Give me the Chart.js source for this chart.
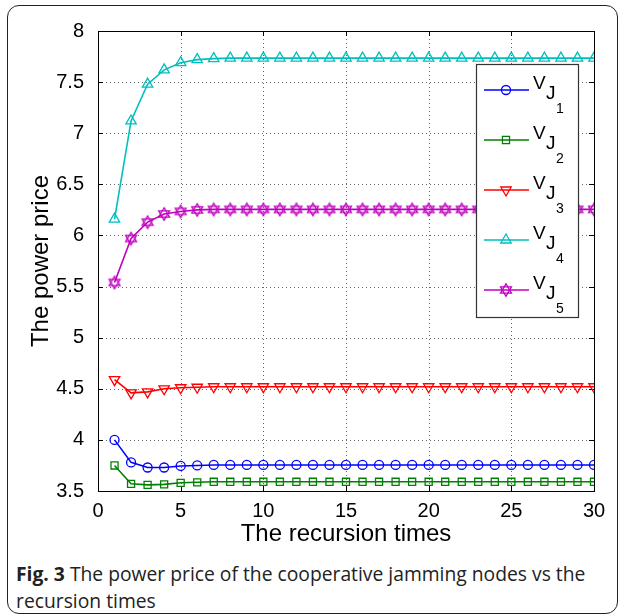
<!DOCTYPE html>
<html>
<head>
<meta charset="utf-8">
<script src="https://cdn.jsdelivr.net/npm/chart.js@4.4.0/dist/chart.umd.min.js"></script>
<style>
  body { margin: 0; background: #fff; width: 627px; height: 615px; overflow: hidden; }
  #frame { position: absolute; left: 7px; top: 5px; width: 611px; height: 609px; border: 1.5px solid #222; border-radius: 12px; box-sizing: border-box; }
  #wrap { position: absolute; left: 0; top: 0; width: 627px; height: 549px; }
  #caption { position: absolute; left: 16px; top: 560px; width: 600px; font-family: "Open Sans", sans-serif; font-size: 19.3px; line-height: 27px; color: #222; }
  #caption b { font-weight: 700; }
</style>
</head>
<body>
<div id="frame"></div>
<div id="wrap"><canvas id="myChart"></canvas></div>
<div id="caption"><b>Fig. 3</b> The power price of the cooperative jamming nodes vs the recursion times</div>
<script>
const iteraciones = [1,2,3,4,5,6,7,8,9,10,11,12,13,14,15,16,17,18,19,20,21,22,23,24,25,26,27,28,29,30];
const vJ1 = [4.00,3.78,3.73,3.73,3.745,3.75,3.755,3.755,3.755,3.755,3.755,3.755,3.755,3.755,3.755,3.755,3.755,3.755,3.755,3.755,3.755,3.755,3.755,3.755,3.755,3.755,3.755,3.755,3.755,3.755];
const vJ2 = [3.75,3.57,3.56,3.565,3.58,3.585,3.59,3.59,3.59,3.59,3.59,3.59,3.59,3.59,3.59,3.59,3.59,3.59,3.59,3.59,3.59,3.59,3.59,3.59,3.59,3.59,3.59,3.59,3.59,3.59];
const vJ3 = [4.59,4.46,4.47,4.50,4.51,4.515,4.52,4.52,4.52,4.52,4.52,4.52,4.52,4.52,4.52,4.52,4.52,4.52,4.52,4.52,4.52,4.52,4.52,4.52,4.52,4.52,4.52,4.52,4.52,4.52];
const vJ4 = [6.16,7.12,7.48,7.62,7.69,7.72,7.73,7.735,7.735,7.735,7.735,7.735,7.735,7.735,7.735,7.735,7.735,7.735,7.735,7.735,7.735,7.735,7.735,7.735,7.735,7.735,7.735,7.735,7.735,7.735];
const vJ5 = [5.54,5.97,6.13,6.21,6.235,6.25,6.255,6.255,6.255,6.255,6.255,6.255,6.255,6.255,6.255,6.255,6.255,6.255,6.255,6.255,6.255,6.255,6.255,6.255,6.255,6.255,6.255,6.255,6.255,6.255];
const nombres = ["1","2","3","4","5"];
const colores = ["#0000ff","#008000","#ff0000","#00bfbf","#bf00bf"];

// hexagram marker (MATLAB 'h')
const hexagrama = (color) => {
  const c = document.createElement("canvas");
  c.width = 16; c.height = 16;
  const ctx = c.getContext("2d");
  ctx.strokeStyle = color;
  ctx.lineWidth = 1.3;
  const r = 6.3;
  for (let k = 0; k < 2; k++) {
    ctx.beginPath();
    for (let i = 0; i < 3; i++) {
      const a = -Math.PI / 2 + k * Math.PI + i * 2 * Math.PI / 3;
      const px = 8 + r * Math.cos(a), py = 8 + r * Math.sin(a);
      if (i === 0) ctx.moveTo(px, py); else ctx.lineTo(px, py);
    }
    ctx.closePath();
    ctx.stroke();
  }
  return c;
};

const puntos = (valores) => valores.map((v, i) => ({ x: iteraciones[i], y: v }));

const estilos = [
  { pointStyle: "circle", pointRadius: 4.5, rotation: 0 },
  { pointStyle: "rect", pointRadius: 5, rotation: 0 },
  { pointStyle: "triangle", pointRadius: 6, rotation: 180 },
  { pointStyle: "triangle", pointRadius: 6, rotation: 0 },
  { pointStyle: hexagrama(colores[4]), pointRadius: 6, rotation: 0 },
];

const series = [vJ1, vJ2, vJ3, vJ4, vJ5];
const datasets = series.map((s, i) => ({
  label: "VJ" + nombres[i],
  data: puntos(s),
  borderColor: colores[i],
  backgroundColor: "rgba(0,0,0,0)",
  borderWidth: 1.6,
  pointBorderColor: colores[i],
  pointBackgroundColor: "rgba(0,0,0,0)",
  pointBorderWidth: 1.3,
  pointStyle: estilos[i].pointStyle,
  pointRadius: estilos[i].pointRadius,
  pointRotation: estilos[i].rotation,
  tension: 0,
}));

const marco = {
  id: "marco",
  beforeDatasetsDraw(chart) {
    const { ctx, chartArea: a } = chart;
    const xs = chart.scales.x, ys = chart.scales.y;
    ctx.save();
    // dotted grid
    ctx.strokeStyle = "#666";
    ctx.lineWidth = 1;
    ctx.setLineDash([1, 3]);
    ctx.beginPath();
    xs.ticks.forEach((t) => {
      const p = Math.round(xs.getPixelForValue(t.value)) + 0.5;
      if (p < a.left + 2 || p > a.right - 2) return;
      ctx.moveTo(p, a.top); ctx.lineTo(p, a.bottom);
    });
    ys.ticks.forEach((t) => {
      const p = Math.round(ys.getPixelForValue(t.value)) + 0.5;
      if (p < a.top + 2 || p > a.bottom - 2) return;
      ctx.moveTo(a.left, p); ctx.lineTo(a.right, p);
    });
    ctx.stroke();
    ctx.setLineDash([]);
    ctx.strokeStyle = "#000";
    ctx.strokeRect(a.left + 0.5, a.top + 0.5, a.right - a.left, a.bottom - a.top);
    // inward ticks
    ctx.beginPath();
    xs.ticks.forEach((t) => {
      const p = Math.round(xs.getPixelForValue(t.value)) + 0.5;
      ctx.moveTo(p, a.bottom); ctx.lineTo(p, a.bottom - 5);
      ctx.moveTo(p, a.top); ctx.lineTo(p, a.top + 5);
    });
    ys.ticks.forEach((t) => {
      const p = Math.round(ys.getPixelForValue(t.value)) + 0.5;
      ctx.moveTo(a.left, p); ctx.lineTo(a.left + 5, p);
      ctx.moveTo(a.right, p); ctx.lineTo(a.right - 5, p);
    });
    ctx.stroke();
    ctx.restore();
  },
  afterDraw(chart) {
    const { ctx } = chart;
    const bx = 476, by = 64, bw = 102, bh = 253;
    ctx.save();
    ctx.fillStyle = "#fff";
    ctx.fillRect(bx, by, bw, bh);
    ctx.strokeStyle = "#333";
    ctx.lineWidth = 1.2;
    ctx.strokeRect(bx + 0.5, by + 0.5, bw, bh);
    chart.data.datasets.forEach((ds, i) => {
      const y = 90 + i * 50;
      ctx.strokeStyle = ds.borderColor;
      ctx.lineWidth = 1.6;
      ctx.beginPath();
      ctx.moveTo(484, y); ctx.lineTo(529, y);
      ctx.stroke();
      ctx.lineWidth = 1.3;
      ctx.fillStyle = "rgba(0,0,0,0)";
      Chart.helpers.drawPoint(ctx, { pointStyle: ds.pointStyle, radius: ds.pointRadius, rotation: ds.pointRotation, borderWidth: 1.3 }, 506, y);
      ctx.fillStyle = "#000";
      ctx.textBaseline = "alphabetic";
      ctx.font = "19px 'Liberation Sans', Arial, sans-serif";
      ctx.fillText("V", 533, y - 1);
      ctx.fillText("J", 546, y + 9);
      ctx.font = "14px 'Liberation Sans', Arial, sans-serif";
      ctx.fillText(nombres[i], 556, y + 23);
    });
    ctx.restore();
  },
};

const fuente = { family: "'Liberation Sans', Arial, sans-serif", size: 20 };
const fuenteTitulo = { family: "'Liberation Sans', Arial, sans-serif", size: 24 };

const config = {
  type: "line",
  data: { datasets },
  options: {
    responsive: true,
    maintainAspectRatio: false,
    animation: false,
    layout: { padding: { top: 31, right: 33, left: 0, bottom: 0 } },
    plugins: { legend: { display: false }, tooltip: { enabled: false } },
    scales: {
      x: {
        type: "linear",
        min: 0, max: 30,
        ticks: { stepSize: 5, color: "#000", font: fuente, padding: 0, maxRotation: 0, callback: (v) => String(v) },
        grid: { display: false },
        border: { display: false },
        title: { display: true, text: "The recursion times", color: "#000", font: fuenteTitulo, padding: { top: 0, bottom: 0 } },
        afterFit: (s) => { s.height = 58; },
      },
      y: {
        min: 3.5, max: 8,
        ticks: { stepSize: 0.5, color: "#000", font: fuente, padding: 6, callback: (v) => String(v) },
        grid: { display: false },
        border: { display: false },
        title: { display: true, text: "The power price", color: "#000", font: fuenteTitulo, padding: { top: 27, bottom: 0 } },
        afterFit: (s) => { s.width = 98; },
      },
    },
  },
  plugins: [marco],
};

const chart = document.querySelector("#myChart");
let myChart = new Chart(chart, config);
</script>
</body>
</html>
